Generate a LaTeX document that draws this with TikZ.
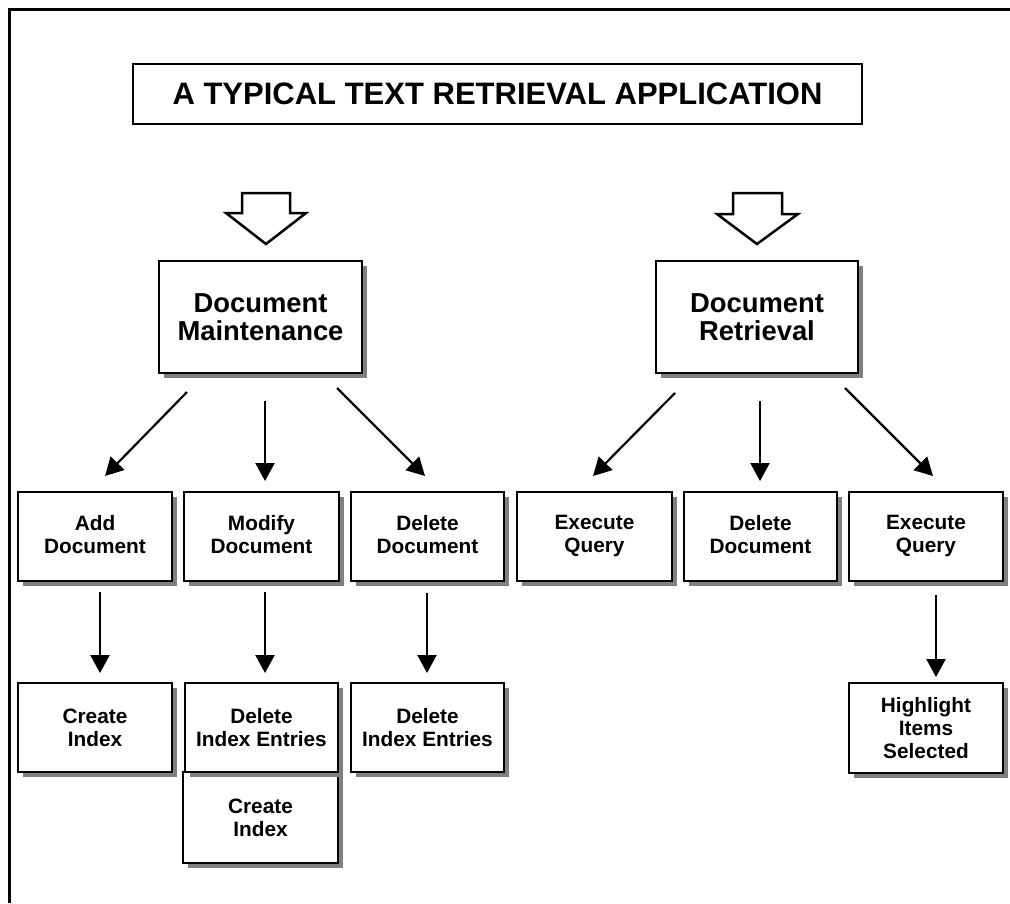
\documentclass[tikz,border=0pt]{standalone}
\usepackage{fontspec}
\setmainfont{Liberation Sans}
\usetikzlibrary{arrows.meta,calc}
\tikzset{
  box/.style={draw, line width=2.6pt, fill=white, inner sep=0pt, outer sep=0pt, align=center,
    font=\bfseries\fontsize{20.8}{23}\selectfont,
    minimum width=154pt, minimum height=89pt,
    preaction={fill=black!50, draw=none, transform canvas={xshift=5pt,yshift=-5pt}}},
  bigbox/.style={box, minimum width=203pt, minimum height=112pt, font=\bfseries\fontsize{27.4}{28}\selectfont},
  titlebox/.style={draw, line width=2.6pt, inner sep=0pt, minimum width=729pt, minimum height=60pt,
    font=\bfseries\fontsize{31}{34}\selectfont},
  arr/.style={line width=2.2pt, -{Triangle[length=18pt,width=19pt]}},
  hollow/.style={draw, line width=2.5pt, line join=miter, fill=white}
}
\newcommand{\fixdepth}{\vphantom{gy}}
\begin{document}
\begin{tikzpicture}[x=1pt,y=-1pt]
\useasboundingbox (0,0) rectangle (1010,903);
\draw[line width=3pt] (9,903) -- (9,9) -- (1010,9);

\node[titlebox] (title) at (497.5,94) {A TYPICAL TEXT RETRIEVAL APPLICATION};

\draw[hollow] (242,193) -- (290,193) -- (290,213) -- (306,213) -- (266,244) -- (226,213) -- (242,213) -- cycle;
\draw[hollow] (733,193) -- (782,193) -- (782,214) -- (798,214) -- (757,244) -- (717,214) -- (733,214) -- cycle;

\node[bigbox] (dm) at (260.5,317) {Document\\Maintenance};
\node[bigbox, minimum width=202pt] (dr) at (757,317) {Document\\Retrieval};

\node[box] (add) at (95,536.5) {\fixdepth Add\\Document\fixdepth};
\node[box, minimum width=155pt] (mod) at (261.5,536.5) {\fixdepth Modify\\Document\fixdepth};
\node[box, minimum width=153pt] (del) at (427.5,536.5) {\fixdepth Delete\\Document\fixdepth};
\node[box, minimum width=155pt] (eq1) at (594.5,536.5) {\fixdepth Execute\\Query\fixdepth};
\node[box, minimum width=153pt] (dd) at (760.5,536.5) {\fixdepth Delete\\Document\fixdepth};
\node[box] (eq2) at (926,536.5) {\fixdepth Execute\\Query\fixdepth};

\node[box] (ci1) at (95,727.5) {Create\\Index};
\node[box, minimum width=155pt, minimum height=91pt] (ci2) at (260.5,817.5) {Create\\Index};
\node[box, minimum width=153pt] (die1) at (261.5,727.5) {Delete\\Index Entries};
\node[box, minimum width=153pt] (die2) at (427.5,727.5) {Delete\\Index Entries};
\node[box, minimum height=90pt] (hl) at (926,728) {Highlight\\Items\\Selected};

\draw[arr] ($(dm.south west)+(28,19)$) -- ($(add.north)+(10,-16)$);
\draw[arr] ($(dm.south)+(4.5,28)$) -- ($(mod.north)+(3.5,-11)$);
\draw[arr] ($(dm.south east)+(-25,15)$) -- ($(del.north)+(-2.5,-16)$);
\draw[arr] ($(dr.south west)+(19,20)$) -- ($(eq1.north)+(-1.5,-16)$);
\draw[arr] ($(dr.south)+(3,28)$) -- ($(dd.north)+(-0.5,-11)$);
\draw[arr] ($(dr.south east)+(-13,15)$) -- ($(eq2.north)+(7,-16)$);

\draw[arr] ($(add.south)+(5,11)$) -- ($(ci1.north)+(5,-10)$);
\draw[arr] ($(mod.south)+(3.5,11)$) -- ($(die1.north)+(3.5,-10)$);
\draw[arr] ($(del.south)+(-0.5,12)$) -- ($(die2.north)+(-0.5,-10)$);
\draw[arr] ($(eq2.south)+(10,14)$) -- ($(hl.north)+(10,-6)$);
\end{tikzpicture}
\end{document}
